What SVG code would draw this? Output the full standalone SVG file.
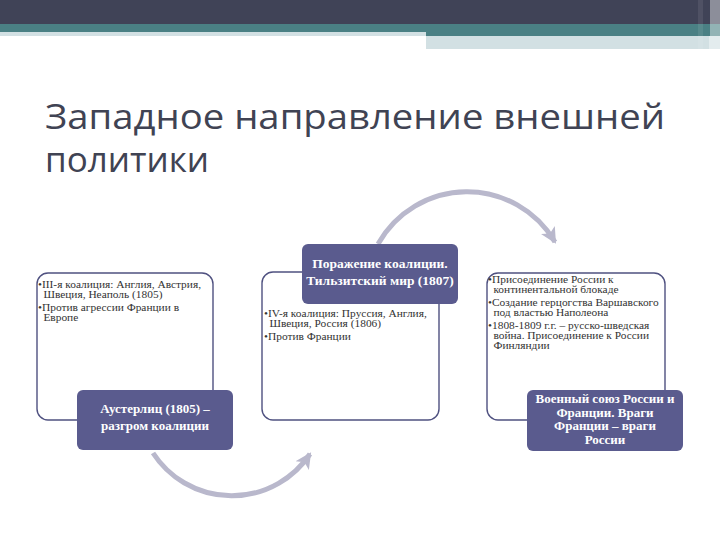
<svg xmlns="http://www.w3.org/2000/svg" width="720" height="540" viewBox="0 0 720 540">
<defs>
<style>
.title{font-family:"Open Sans","DejaVu Sans",sans-serif;font-size:35px;fill:#404353}
.box{fill:#ffffff;stroke:#4F5180;stroke-width:1.4}
.dark{fill:#5A5B8E}
.bt{font-family:"Liberation Serif",serif;font-size:9.5px;fill:#333333}
.wt{font-family:"Liberation Serif",serif;font-size:13.5px;font-weight:bold;fill:#ffffff;text-anchor:middle}
.arc{fill:none;stroke:#B9B8CC;stroke-width:5}
</style>
<marker id="ah" markerUnits="userSpaceOnUse" markerWidth="18" markerHeight="18" viewBox="0 0 18 18" refX="14" refY="9" orient="auto">
<path d="M0,1 L16,9 L0,17 L4,9 Z" fill="#B9B8CC"/>
</marker>
</defs>
<rect x="0" y="0" width="720" height="24" fill="#404357"/>
<rect x="0" y="24" width="720" height="8" fill="#4A8084"/>
<rect x="426" y="32" width="294" height="4" fill="#4A8084"/>
<rect x="0" y="32" width="426" height="4" fill="#D2E0E3"/>
<rect x="426" y="36" width="283" height="13" fill="#D2E0E3"/>
<rect x="698" y="0" width="5" height="49" fill="#ffffff" opacity="0.08"/>
<rect x="710" y="0" width="10" height="36" fill="#ffffff" opacity="0.4"/>
<rect x="709" y="36" width="11" height="13" fill="#E3ECEE"/>
<text class="title" x="45" y="129" textLength="620" lengthAdjust="spacingAndGlyphs">Западное направление внешней</text>
<text class="title" x="45" y="172">политики</text>
<g id="connectors">
<path class="arc" d="M153,453 A94,94 0 0 0 310,454" marker-end="url(#ah)"/>
<path class="arc" d="M378,244 A102,102 0 0 1 555,242" marker-end="url(#ah)"/>
</g>
<g id="node1">
<rect class="box" x="37" y="273" width="176" height="147" rx="11"/>
<g transform="translate(38,0) scale(1.2,1)">
<text class="bt" x="0" y="288">•III-я коалиция: Англия, Австрия,</text>
<text class="bt" x="4.5" y="298">Швеция, Неаполь (1805)</text>
<text class="bt" x="0" y="311">•Против агрессии Франции в</text>
<text class="bt" x="4.5" y="321">Европе</text>
</g>
</g>
<g id="node1b">
<rect class="dark" x="77" y="390" width="156" height="60" rx="6"/>
<text class="wt" x="155" y="413" style="font-size:13px">Аустерлиц (1805) –</text>
<text class="wt" x="155" y="430" style="font-size:13px">разгром коалиции</text>
</g>
<g id="node2">
<rect class="box" x="262" y="272" width="177" height="148" rx="11"/>
<g transform="translate(264,0) scale(1.2,1)">
<text class="bt" x="0" y="317">•IV-я коалиция: Пруссия, Англия,</text>
<text class="bt" x="4.5" y="327">Швеция, Россия (1806)</text>
<text class="bt" x="0" y="340">•Против Франции</text>
</g>
</g>
<g id="node2b">
<rect class="dark" x="302" y="244" width="156" height="60" rx="6"/>
<text class="wt" x="380" y="268">Поражение коалиции.</text>
<text class="wt" x="380" y="285">Тильзитский мир (1807)</text>
</g>
<g id="node3">
<rect class="box" x="487" y="273" width="178" height="147" rx="11"/>
<g transform="translate(488,0) scale(1.2,1)">
<text class="bt" x="0" y="283">•Присоединение России к</text>
<text class="bt" x="4.5" y="293">континентальной блокаде</text>
<text class="bt" x="0" y="306">•Создание герцогства Варшавского</text>
<text class="bt" x="4.5" y="316">под властью Наполеона</text>
<text class="bt" x="0" y="329">•1808-1809 г.г. – русско-шведская</text>
<text class="bt" x="4.5" y="339">война. Присоединение к России</text>
<text class="bt" x="4.5" y="349">Финляндии</text>
</g>
</g>
<g id="node3b">
<rect class="dark" x="527" y="390" width="156" height="61" rx="6"/>
<text class="wt" x="605" y="403" style="font-size:13px">Военный союз России и</text>
<text class="wt" x="605" y="416.5" style="font-size:13px">Франции. Враги</text>
<text class="wt" x="605" y="430" style="font-size:13px">Франции – враги</text>
<text class="wt" x="605" y="443.5" style="font-size:13px">России</text>
</g>
</svg>
